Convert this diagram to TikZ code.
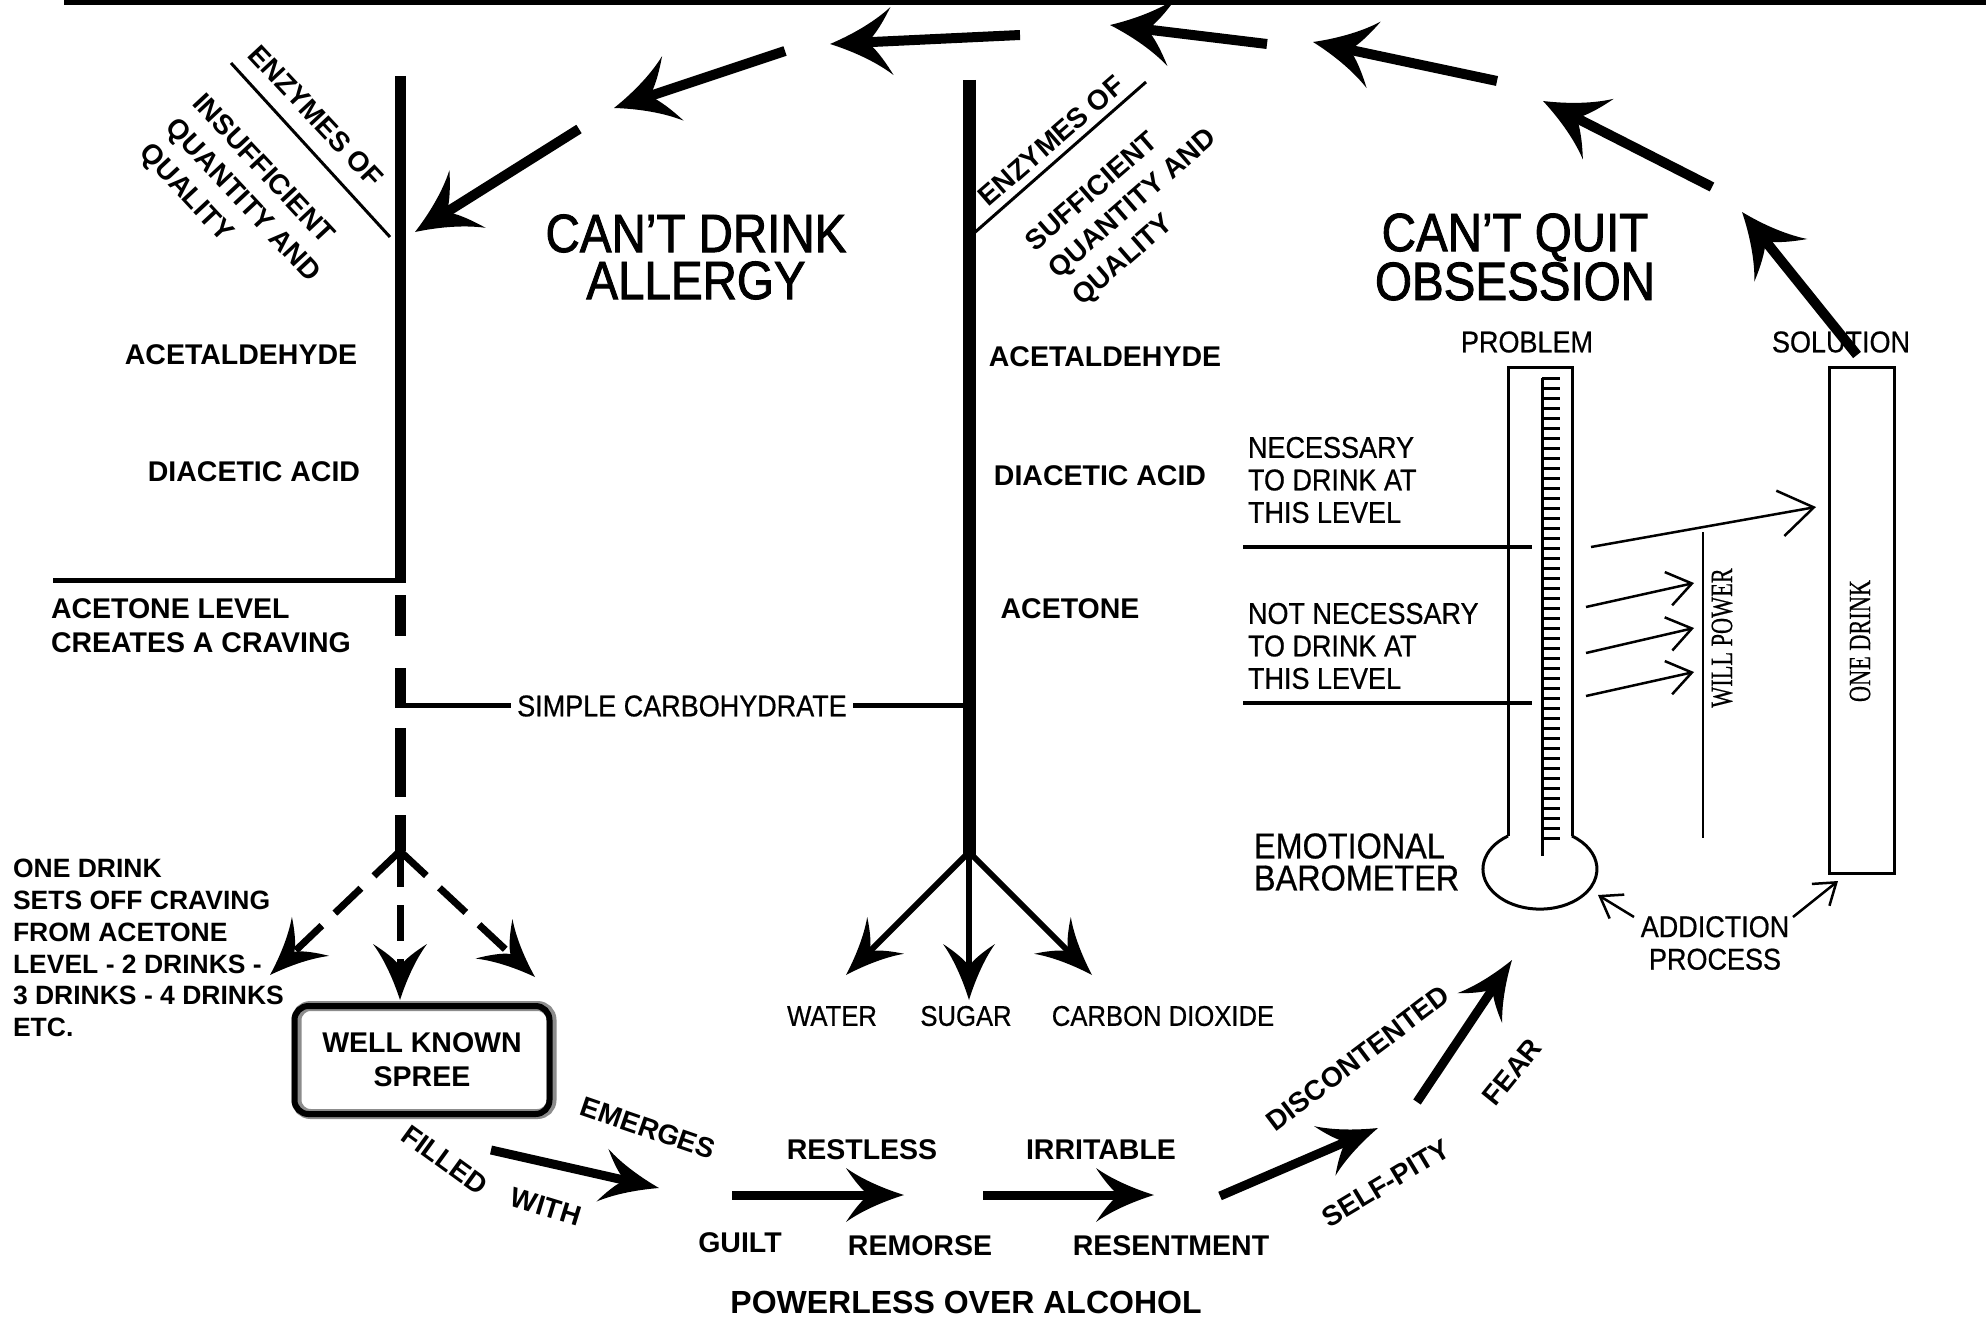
\documentclass[tikz,border=0pt]{standalone}
\usepackage{fontspec}
\setmainfont{Liberation Sans}
\newfontfamily\condfont[FakeStretch=0.9,FakeBold=0.6]{Liberation Sans}
\newfontfamily\headfont[FakeStretch=0.88,FakeBold=1.6]{Liberation Sans}
\newfontfamily\narrowserif[FakeStretch=0.72,FakeBold=0.4]{Liberation Serif}
\usetikzlibrary{arrows.meta}

% filled arrow head with swept, curved barbs
\pgfdeclarearrow{
  name = Hook,
  parameters = {\the\pgfarrowlength,\the\pgfarrowwidth},
  setup code = {
    \pgfarrowssettipend{0pt}
    \pgfarrowssetbackend{-\pgfarrowlength}
    \pgfarrowssetlineend{-0.5\pgfarrowlength}
    \pgfarrowssetvisualbackend{-0.6\pgfarrowlength}
    \pgfarrowshullpoint{0pt}{0pt}
    \pgfarrowshullpoint{-\pgfarrowlength}{0.5\pgfarrowwidth}
    \pgfarrowshullpoint{-\pgfarrowlength}{-0.5\pgfarrowwidth}
    \pgfarrowssavethe\pgfarrowlength
    \pgfarrowssavethe\pgfarrowwidth
  },
  drawing code = {
    \pgfpathmoveto{\pgfpointorigin}
    \pgfpathcurveto{\pgfpoint{-0.3\pgfarrowlength}{0.1\pgfarrowwidth}}{\pgfpoint{-0.7\pgfarrowlength}{0.27\pgfarrowwidth}}{\pgfpoint{-\pgfarrowlength}{0.5\pgfarrowwidth}}
    \pgfpathcurveto{\pgfpoint{-0.88\pgfarrowlength}{0.3\pgfarrowwidth}}{\pgfpoint{-0.72\pgfarrowlength}{0.08\pgfarrowwidth}}{\pgfpoint{-0.6\pgfarrowlength}{0pt}}
    \pgfpathcurveto{\pgfpoint{-0.72\pgfarrowlength}{-0.08\pgfarrowwidth}}{\pgfpoint{-0.88\pgfarrowlength}{-0.3\pgfarrowwidth}}{\pgfpoint{-\pgfarrowlength}{-0.5\pgfarrowwidth}}
    \pgfpathcurveto{\pgfpoint{-0.7\pgfarrowlength}{-0.27\pgfarrowwidth}}{\pgfpoint{-0.3\pgfarrowlength}{-0.1\pgfarrowwidth}}{\pgfpointorigin}
    \pgfpathclose
    \pgfusepathqfill
  },
  defaults = {length = 40pt, width = 40pt}
}

\tikzset{
  every node/.style={inner sep=0pt, outer sep=0pt},
  boldtxt/.style={font=\bfseries\fontsize{28.5}{34}\selectfont},
  slanttxt/.style={font=\bfseries\fontsize{28}{36}\selectfont},
  notetxt/.style={font=\bfseries\fontsize{26.5}{31.8}\selectfont, align=left},
  condtxt/.style={font=\condfont\fontsize{30}{32.5}\selectfont},
  titletxt/.style={font=\headfont\fontsize{54}{47}\selectfont, align=center},
  serifvert/.style={font=\narrowserif\fontsize{31}{34}\selectfont, rotate=90},
  stem/.style={line width=11pt},
  rule/.style={line width=5pt},
  fineline/.style={line width=2.5pt},
  cycle arrow/.style={line width=10pt, -{Hook[length=62pt,width=68pt]}},
  flow arrow/.style={line width=9pt, -{Hook[length=58pt,width=54pt]}},
  split arrow/.style={line width=6pt, -{Hook[length=56pt,width=52pt]}},
  craving arrow/.style={line width=7pt, dash pattern=on 36pt off 18pt, -{Hook[length=56pt,width=54pt]}},
  push arrow/.style={fineline, -{Straight Barb[length=24pt,width=34pt]}},
  drink arrow/.style={fineline, -{Straight Barb[length=34pt,width=46pt]}},
  cue arrow/.style={fineline, -{Straight Barb[length=20pt,width=28pt]}},
}

\begin{document}
\begin{tikzpicture}[x=1pt,y=-1pt]
\useasboundingbox (0,0) rectangle (1986,1319);
\fill[white] (0,0) rectangle (1986,1319);

% ---------- top rule ----------
\coordinate (ruleL) at (64,2.5);
\coordinate (ruleR) at (1986,2.5);
\draw[rule] (ruleL) -- (ruleR);

% ---------- left column: insufficient enzymes ----------
\coordinate (lTop) at (400,76);
\coordinate (lBase) at (400,582.5);
\coordinate (lShelf) at (53,580);
\coordinate (lCorner) at (400,580);
\draw[stem] (lTop) -- (lBase);
\draw[rule] (lShelf) -- (lCorner);

\coordinate (d1a) at (400,595);  \coordinate (d1b) at (400,636);
\coordinate (d2a) at (400,668);  \coordinate (d2b) at (400,707.5);
\coordinate (d3a) at (400,728);  \coordinate (d3b) at (400,797);
\coordinate (d4a) at (400,815);  \coordinate (split) at (400,851);
\draw[stem] (d1a) -- (d1b);
\draw[stem] (d2a) -- (d2b);
\draw[stem] (d3a) -- (d3b);
\draw[stem] (d4a) -- (split);

\coordinate (enzLa) at (231,63);
\coordinate (enzLb) at (390,237);
\draw[line width=3pt] (enzLa) -- (enzLb);

\node[slanttxt, rotate=-47] (enzL) at (316,116) {ENZYMES OF};
\node[slanttxt, rotate=-47, align=left, anchor=west] (insuff) at (170,124) {INSUFFICIENT\\QUANTITY AND\\QUALITY};

\node[boldtxt] (aldL) at (241,355) {ACETALDEHYDE};
\node[boldtxt] (diaL) at (254,472) {DIACETIC ACID};
\node[boldtxt, align=left, anchor=west] (craving) at (51,626) {ACETONE LEVEL\\CREATES A CRAVING};

% ---------- middle column: sufficient enzymes ----------
\coordinate (mTop) at (969,80);
\coordinate (mBase) at (969,859);
\coordinate (mCarb) at (969,705);
\coordinate (carbL) at (400,705);
\draw[line width=13pt] (mTop) -- (mBase);
\draw[rule] (carbL) -- (mCarb);
\node[condtxt, fill=white, inner xsep=6pt, inner ysep=3pt] (carb) at (682,706) {SIMPLE CARBOHYDRATE};

\coordinate (enzRa) at (973,234);
\coordinate (enzRb) at (1146,82);
\draw[line width=3pt] (enzRa) -- (enzRb);
\node[slanttxt, rotate=41] (enzR) at (1051,141) {ENZYMES OF};
\node[slanttxt, rotate=41, align=left, anchor=west] (suff) at (1054,274) {SUFFICIENT\\QUANTITY AND\\QUALITY};

\node[boldtxt] (aldR) at (1105,357) {ACETALDEHYDE};
\node[boldtxt] (diaR) at (1100,476) {DIACETIC ACID};
\node[boldtxt] (acetR) at (1070,609) {ACETONE};

\coordinate (mFork) at (969,852);
\coordinate (waterTip) at (846,975);
\coordinate (sugarTip) at (969,1000);
\coordinate (co2Tip) at (1092,975);
\draw[split arrow] (mFork) -- (waterTip);
\draw[split arrow] (mFork) -- (sugarTip);
\draw[split arrow] (mFork) -- (co2Tip);
\node[condtxt, font=\condfont\fontsize{28.5}{32}\selectfont] (water) at (832,1016) {WATER};
\node[condtxt, font=\condfont\fontsize{28.5}{32}\selectfont] (sugar) at (966,1016) {SUGAR};
\node[condtxt, font=\condfont\fontsize{28.5}{32}\selectfont] (co2) at (1163,1016) {CARBON DIOXIDE};

% ---------- titles ----------
\node[titletxt] (allergy) at (696,257) {CAN’T DRINK\\ALLERGY};
\node[titletxt] (obsession) at (1515,257) {CAN’T QUIT\\OBSESSION};

% ---------- top cycle of arrows ----------
\coordinate (c1s) at (1857,355); \coordinate (c1e) at (1742,212);
\coordinate (c2s) at (1712,187); \coordinate (c2e) at (1543,101);
\coordinate (c3s) at (1497,81);  \coordinate (c3e) at (1313,42);
\coordinate (c4s) at (1267,44);  \coordinate (c4e) at (1110,25);
\coordinate (c5s) at (1020,35);  \coordinate (c5e) at (830,44);
\coordinate (c6s) at (785,51);   \coordinate (c6e) at (614,108);
\coordinate (c7s) at (579,129);  \coordinate (c7e) at (415,232);
\foreach \a in {1,...,7} { \draw[cycle arrow] (c\a s) -- (c\a e); }

% ---------- barometer ----------
\node[condtxt] (problem) at (1527,342) {PROBLEM};
\node[condtxt] (solution) at (1841,342) {SOLUTION};

\coordinate (tubeTL) at (1508,367);
\coordinate (tubeTR) at (1572,367);
\coordinate (tubeBL) at (1508,836);
\coordinate (tubeBR) at (1572,836);
\draw[line width=3pt, line join=miter] (tubeBL) -- (tubeTL) -- (tubeTR) -- (tubeBR);
\draw[line width=3pt] (tubeBL) arc[start angle=124.1, end angle=415.9, x radius=57pt, y radius=40pt];
\coordinate (scaleTop) at (1542,378);
\coordinate (scaleBot) at (1542,856);
\draw[line width=3pt] (scaleTop) -- (scaleBot);
\foreach \k in {0,...,46} { \draw[line width=3pt] (1542,378+10*\k) -- (1560,378+10*\k); }

\coordinate (lvlA1) at (1243,547); \coordinate (lvlA2) at (1532,547);
\coordinate (lvlB1) at (1243,703); \coordinate (lvlB2) at (1532,703);
\draw[line width=4.5pt] (lvlA1) -- (lvlA2);
\draw[line width=4.5pt] (lvlB1) -- (lvlB2);

\node[condtxt, align=left, anchor=west] (need) at (1248,480) {NECESSARY\\TO DRINK AT\\THIS LEVEL};
\node[condtxt, align=left, anchor=west] (noneed) at (1248,646) {NOT NECESSARY\\TO DRINK AT\\THIS LEVEL};
\node[condtxt, font=\condfont\fontsize{36}{32}\selectfont, align=left, anchor=west] (barometer) at (1254,862) {EMOTIONAL\\BAROMETER};

\coordinate (wpTop) at (1703,532);
\coordinate (wpBot) at (1703,838);
\draw[fineline] (wpTop) -- (wpBot);
\node[serifvert] (willpower) at (1722,638) {WILL POWER};

\node[draw, line width=3pt, minimum width=65pt, minimum height=506pt] (onedrinkbox) at (1861.5,620) {};
\node[serifvert] (onedrink) at (1860,641) {ONE DRINK};

\coordinate (pushA) at (1591,547); \coordinate (pushAe) at (1816,507);
\coordinate (push1) at (1586,607); \coordinate (push1e) at (1694,583);
\coordinate (push2) at (1586,653); \coordinate (push2e) at (1694,628);
\coordinate (push3) at (1586,696); \coordinate (push3e) at (1694,672);
\draw[drink arrow] (pushA) -- (pushAe);
\draw[push arrow] (push1) -- (push1e);
\draw[push arrow] (push2) -- (push2e);
\draw[push arrow] (push3) -- (push3e);

\node[condtxt, align=center] (addiction) at (1715,943) {ADDICTION\\PROCESS};
\coordinate (cueL) at (1634,917); \coordinate (cueLe) at (1598,895);
\coordinate (cueR) at (1793,917); \coordinate (cueRe) at (1838,881);
\draw[cue arrow] (cueL) -- (cueLe);
\draw[cue arrow] (cueR) -- (cueRe);

% ---------- craving and spree ----------
\coordinate (crL) at (270,975);
\coordinate (crM) at (400,1000);
\coordinate (crR) at (535,977);
\draw[craving arrow] (split) -- (crL);
\draw[craving arrow] (split) -- (crM);
\draw[craving arrow] (split) -- (crR);

\node[notetxt, anchor=west] (onedrinknote) at (13,948) {ONE DRINK\\SETS OFF CRAVING\\FROM ACETONE\\LEVEL - 2 DRINKS -\\3 DRINKS - 4 DRINKS\\ETC.};

\node[draw=black!45, line width=10pt, rounded corners=14pt, minimum width=255pt, minimum height=108pt] (spreehalo) at (424,1060) {};
\node[draw, line width=6pt, rounded corners=14pt, minimum width=255pt, minimum height=108pt, boldtxt, align=center] (spree) at (422,1060) {WELL KNOWN\\SPREE};

% ---------- emotional slide ----------
\node[slanttxt, rotate=-36] (filled) at (445,1160) {FILLED};
\node[slanttxt, rotate=-17] (with) at (546,1207) {WITH};
\node[slanttxt, rotate=-19] (emerges) at (648,1128) {EMERGES};

\coordinate (f1s) at (491,1150);  \coordinate (f1e) at (659,1188);
\coordinate (f2s) at (732,1195);  \coordinate (f2e) at (904,1195);
\coordinate (f3s) at (983,1195);  \coordinate (f3e) at (1154,1195);
\coordinate (f4s) at (1220,1196); \coordinate (f4e) at (1378,1128);
\coordinate (f5s) at (1417,1102); \coordinate (f5e) at (1512,960);
\foreach \a in {1,...,5} { \draw[flow arrow] (f\a s) -- (f\a e); }

\node[boldtxt] (restless) at (862,1150) {RESTLESS};
\node[boldtxt] (irritable) at (1101,1150) {IRRITABLE};
\node[boldtxt] (guilt) at (740,1243) {GUILT};
\node[boldtxt] (remorse) at (920,1246) {REMORSE};
\node[boldtxt] (resentment) at (1171,1246) {RESENTMENT};
\node[slanttxt, rotate=37] (discontented) at (1358,1058) {DISCONTENTED};
\node[slanttxt, rotate=31] (selfpity) at (1386,1183) {SELF-PITY};
\node[slanttxt, rotate=51] (fear) at (1512,1072) {FEAR};
\node[boldtxt, font=\bfseries\fontsize{32}{36}\selectfont] (powerless) at (966,1302) {POWERLESS OVER ALCOHOL};

\end{tikzpicture}
\end{document}
